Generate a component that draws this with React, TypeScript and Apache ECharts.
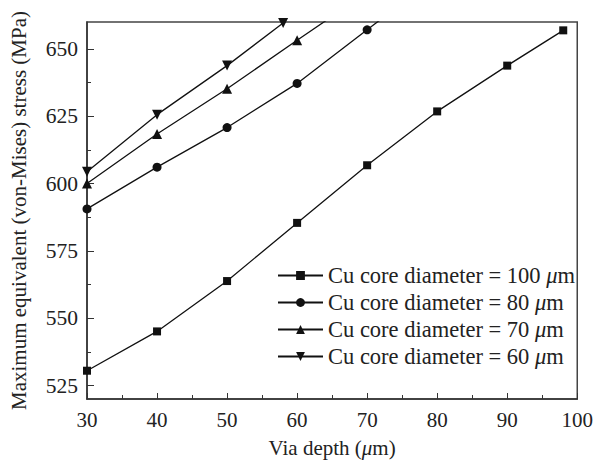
import { useEffect, useRef } from 'react';
import * as echarts from 'echarts';

const seriesNames = [
  'Cu core diameter = 100 μm',
  'Cu core diameter = 80 μm',
  'Cu core diameter = 70 μm',
  'Cu core diameter = 60 μm',
];
const depth100 = [30, 40, 50, 60, 70, 80, 90, 98];
const stress100 = [530.5, 545.1, 563.8, 585.4, 606.8, 626.8, 643.8, 656.9];
const depth80 = [30, 40, 50, 60, 70, 80];
const stress80 = [590.6, 606.1, 620.8, 637.2, 657.1, 677];
const depth70 = [30, 40, 50, 60, 70];
const stress70 = [600, 618.4, 635.2, 653.2, 671];
const depth60 = [30, 40, 50, 58];
const stress60 = [604.4, 625.6, 643.8, 659.6];
const yTicks = [525, 550, 575, 600, 625, 650];
const yMinorTicks = [537.5, 562.5, 587.5, 612.5, 637.5];

const FONT = '"Liberation Serif", "Times New Roman", serif';
const TEXT = '#222';

const pairs = (xs: number[], ys: number[]) => xs.map((x, i) => [x, ys[i]]);

export default function App() {
  const ref = useRef<HTMLDivElement>(null);
  useEffect(() => {
    if (!ref.current) return;
    const chart = echarts.init(ref.current, null, { renderer: 'svg' });
    const mk = (name: string, data: number[][], symbol: string, size: number, rotate = 0) => ({
      name,
      type: 'line',
      data,
      symbol,
      symbolSize: size,
      symbolRotate: rotate,
      clip: true,
      lineStyle: { color: '#111', width: 1.3 },
      itemStyle: { color: '#111' },
    });
    chart.setOption({
      animation: false,
      backgroundColor: '#fff',
      grid: {
        left: 87,
        right: 18,
        top: 22,
        bottom: 62,
        show: true,
        borderColor: '#444',
        borderWidth: 1.5,
      },
      legend: {
        orient: 'vertical',
        left: 277,
        top: 264,
        padding: 0,
        itemWidth: 45,
        itemHeight: 11,
        itemGap: 4,
        data: seriesNames,
        formatter: (n: string) => n.replace('μm', '{i|μ}m'),
        textStyle: {
          fontFamily: FONT,
          fontSize: 22.5,
          color: TEXT,
          rich: {
            i: { fontFamily: FONT, fontSize: 22.5, fontStyle: 'italic', color: TEXT },
          },
        },
      },
      xAxis: {
        type: 'value',
        min: 30,
        max: 100,
        interval: 10,
        name: 'Via depth ({i|μ}m)',
        nameLocation: 'middle',
        nameGap: 38,
        nameTextStyle: {
          fontFamily: FONT,
          fontSize: 21,
          color: TEXT,
          rich: { i: { fontFamily: FONT, fontSize: 21, fontStyle: 'italic', color: TEXT } },
        },
        axisLine: { show: true, lineStyle: { color: '#333', width: 1.5 } },
        axisTick: { show: true, inside: true, length: 6, lineStyle: { color: '#333' } },
        minorTick: { show: true, splitNumber: 2, length: 4, lineStyle: { color: '#333' } },
        axisLabel: { fontFamily: FONT, fontSize: 21, color: TEXT, margin: 10 },
        splitLine: { show: false },
      },
      yAxis: [
        {
          type: 'value',
          min: 520,
          max: 660,
          name: 'Maximum equivalent (von-Mises) stress (MPa)',
          nameLocation: 'middle',
          nameGap: 58,
          nameTextStyle: { fontFamily: FONT, fontSize: 21, color: TEXT },
          axisLine: { show: true, lineStyle: { color: '#333', width: 1.5 } },
          axisTick: { show: true, inside: true, length: 7, customValues: yTicks, lineStyle: { color: '#333' } },
          axisLabel: { fontFamily: FONT, fontSize: 21.5, color: TEXT, margin: 9, customValues: yTicks },
          splitLine: { show: false },
        },
        {
          type: 'value',
          min: 520,
          max: 660,
          position: 'left',
          axisLine: { show: false },
          axisTick: { show: true, inside: true, length: 4, customValues: yMinorTicks, lineStyle: { color: '#333' } },
          axisLabel: { show: false },
          splitLine: { show: false },
        },
      ],
      series: [
        mk(seriesNames[0], pairs(depth100, stress100), 'rect', 8),
        mk(seriesNames[1], pairs(depth80, stress80), 'circle', 9),
        mk(seriesNames[2], pairs(depth70, stress70), 'triangle', 10),
        mk(seriesNames[3], pairs(depth60, stress60), 'triangle', 10, 180),
      ],
    });
    return () => chart.dispose();
  }, []);
  return (
    <div
      ref={ref}
      style={{ position: 'fixed', left: 0, top: 0, width: 596, height: 463, background: '#fff' }}
    />
  );
}
